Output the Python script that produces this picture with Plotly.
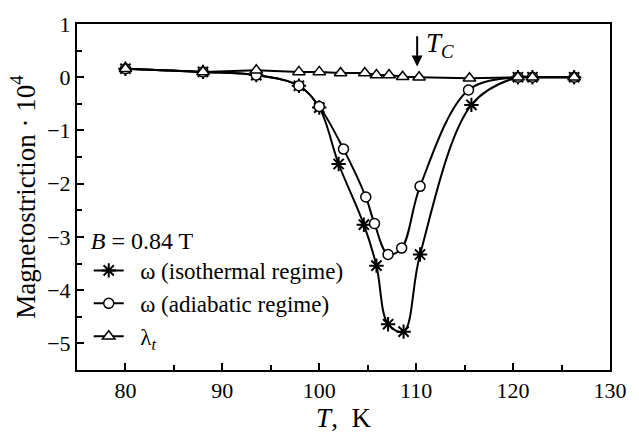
import plotly.graph_objects as go

# Data
T_iso = [80.0, 88.0, 93.5, 97.9, 100.0, 102.0, 104.6, 105.9, 107.1, 108.7, 110.4, 115.7, 120.5, 122.0, 126.3]
w_iso = [0.16, 0.10, 0.04, -0.16, -0.57, -1.63, -2.77, -3.54, -4.64, -4.78, -3.33, -0.52, 0.0, 0.0, 0.0]

T_adi = [80.0, 88.0, 93.5, 97.9, 100.0, 102.5, 104.8, 105.7, 107.1, 108.5, 110.4, 115.4, 120.5, 122.0, 126.3]
w_adi = [0.16, 0.10, 0.04, -0.16, -0.55, -1.35, -2.25, -2.75, -3.33, -3.21, -2.05, -0.24, 0.0, 0.0, 0.0]

T_lam = [80.0, 88.0, 93.5, 97.9, 100.0, 102.2, 104.7, 105.9, 107.2, 108.6, 110.3, 115.5, 120.5, 122.0, 126.3]
lam_t = [0.16, 0.10, 0.13, 0.10, 0.10, 0.08, 0.08, 0.04, 0.04, 0.01, 0.0, -0.02, 0.0, 0.0, 0.0]

x_ticks = [80, 90, 100, 110, 120, 130]
y_ticks = [1, 0, -1, -2, -3, -4, -5]

FONT = "Liberation Serif, Times New Roman, serif"
PAD = "\u00a0\u00a0"

fig = go.Figure()
fig.add_trace(go.Scatter(
    x=T_iso, y=w_iso, mode="lines+markers", name=PAD + "ω (isothermal regime)",
    line=dict(color="black", width=2, shape="spline", smoothing=1.0),
    marker=dict(symbol="asterisk-open", size=12, color="black", line=dict(color="black", width=2)),
))
fig.add_trace(go.Scatter(
    x=T_adi, y=w_adi, mode="lines+markers", name=PAD + "ω (adiabatic regime)",
    line=dict(color="black", width=2, shape="spline", smoothing=1.0),
    marker=dict(symbol="circle", size=10, color="white", line=dict(color="black", width=1.5)),
))
fig.add_trace(go.Scatter(
    x=T_lam, y=lam_t, mode="lines+markers", name=PAD + "λ<sub><i>t</i></sub>",
    line=dict(color="black", width=2),
    marker=dict(symbol="triangle-up", size=11, color="white", line=dict(color="black", width=1.5)),
))

# T_C arrow and label
fig.add_annotation(x=110.1, y=0.2, ax=110.1, ay=0.8, xref="x", yref="y", axref="x", ayref="y",
                   text="", showarrow=True, arrowhead=2, arrowsize=1.1, arrowwidth=2, arrowcolor="black")
fig.add_annotation(x=110.8, y=0.6, xref="x", yref="y", text="<i>T</i><sub><i>C</i></sub>",
                   showarrow=False, xanchor="left", font=dict(family=FONT, size=27, color="black"))

axis_common = dict(
    showline=True, linecolor="black", linewidth=2, mirror=True,
    ticks="inside", ticklen=7, tickwidth=1.5, tickcolor="black",
    showgrid=False, zeroline=False,
    tickfont=dict(family=FONT, size=22, color="black"),
)

fig.update_xaxes(range=[75, 130], tickvals=x_ticks,
                 minor=dict(dtick=5, tick0=75, ticks="inside", ticklen=5, tickwidth=1.5, tickcolor="black"),
                 title=dict(text="<i>T</i>,  K", font=dict(family=FONT, size=27, color="black"), standoff=4),
                 **axis_common)
fig.update_yaxes(range=[-5.5, 1], tickvals=y_ticks,
                 minor=dict(dtick=0.5, tick0=0, ticks="inside", ticklen=5, tickwidth=1.5, tickcolor="black"),
                 title=dict(text="Magnetostriction · 10<sup>4</sup>", font=dict(family=FONT, size=27, color="black"), standoff=4),
                 **axis_common)

fig.update_layout(
    width=639, height=438,
    margin=dict(l=77, r=19, t=19, b=56),
    paper_bgcolor="white", plot_bgcolor="white",
    font=dict(family=FONT, color="black"),
    showlegend=True,
    legend=dict(
        x=0.022, y=0.44, xanchor="left", yanchor="top",
        bgcolor="rgba(0,0,0,0)", borderwidth=0,
        font=dict(family=FONT, size=23, color="black"),
        title=dict(text="<i>B</i> = 0.84 T", font=dict(family=FONT, size=24, color="black")),
        tracegroupgap=0,
    ),
)

fig.write_html("out.html")
